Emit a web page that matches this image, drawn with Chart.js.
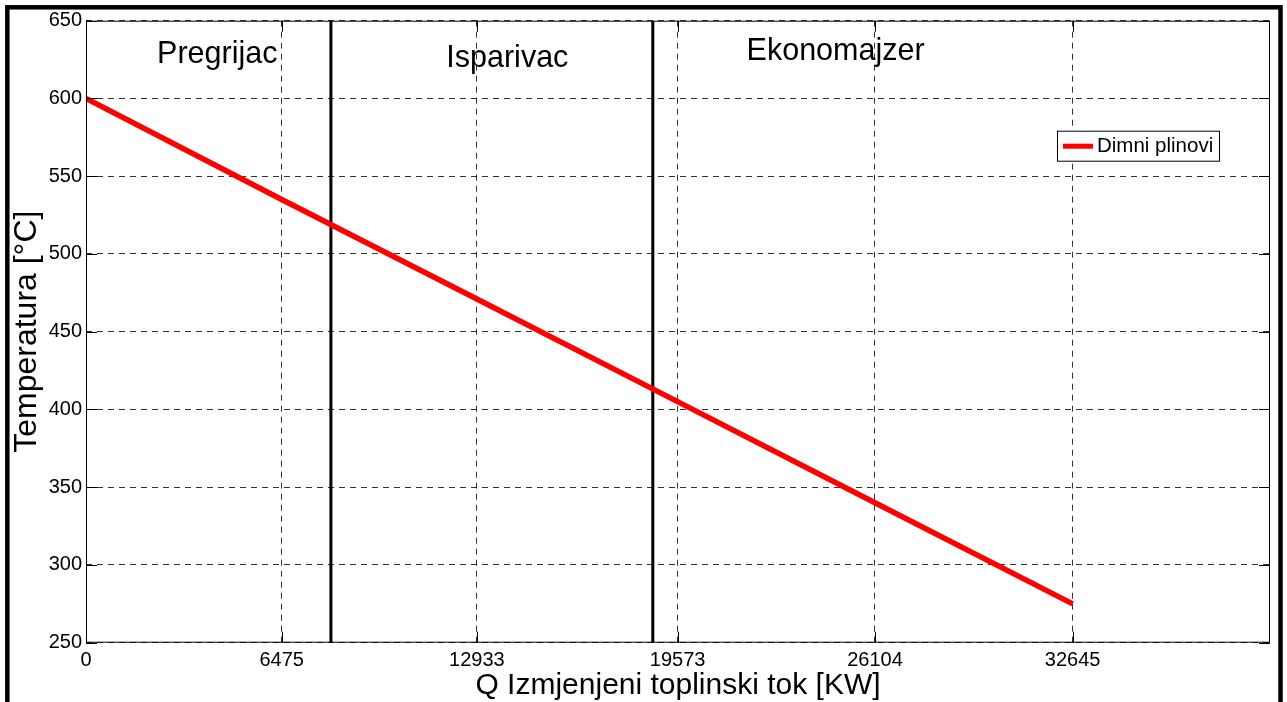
<!DOCTYPE html>
<html>
<head>
<meta charset="utf-8">
<script src="https://cdn.jsdelivr.net/npm/chart.js@4"></script>
<style>
  html, body { margin: 0; padding: 0; background: #fff; }
  #wrap { width: 1287px; height: 702px; position: relative; }
</style>
</head>
<body>
<div id="wrap"><canvas id="myChart" width="1287" height="702"></canvas></div>
<script>
// heat flow Q [KW] vs flue gas temperature
const heatFlow = [0, 6475, 12933, 19573, 26104, 32645];
const flueGasTemp = [600, 535, 471, 405, 340, 275];
const xTickValues = [0, 6475, 12933, 19573, 26104, 32645];
const yTickValues = [250, 300, 350, 400, 450, 500, 550, 600, 650];

// section boundaries (vertical black lines)
const sectionBounds = [8103, 18753];
const sectionNames = ["Pregrijac", "Isparivac", "Ekonomajzer"];
const sectionNameQ = [2351, 11921, 21856];
const sectionNameT = [622.8, 620.2, 624.7];

const FONT = "'Liberation Sans', Arial, sans-serif";

const datasets = [
  {
    label: "Dimni plinovi",
    data: heatFlow.map((q, i) => ({ x: q, y: flueGasTemp[i] })),
    borderColor: "#ff0000",
    borderWidth: 5.5,
    pointRadius: 0,
    tension: 0,
  },
];
sectionBounds.forEach((q) => {
  datasets.push({
    label: "",
    data: [{ x: q, y: yTickValues[0] }, { x: q, y: yTickValues[yTickValues.length - 1] }],
    borderColor: "#000",
    borderWidth: 3,
    pointRadius: 0,
  });
});

const matlabLook = {
  id: "matlabLook",
  afterDraw(chart) {
    const { ctx, chartArea: ca, scales } = chart;
    const xs = scales.x, ys = scales.y;
    ctx.save();

    // axes box
    ctx.strokeStyle = "#000";
    ctx.lineWidth = 1;
    ctx.setLineDash([]);
    ctx.strokeRect(ca.left + 0.5, ca.top + 0.5, ca.right - ca.left - 1, ca.bottom - ca.top - 1);

    // inward tick marks
    const tl = 11;
    ctx.beginPath();
    xTickValues.forEach((v) => {
      const px = Math.round(xs.getPixelForValue(v)) + 0.5;
      ctx.moveTo(px, ca.bottom); ctx.lineTo(px, ca.bottom - tl);
      ctx.moveTo(px, ca.top); ctx.lineTo(px, ca.top + tl);
    });
    yTickValues.forEach((v) => {
      const py = Math.round(ys.getPixelForValue(v)) + 0.5;
      ctx.moveTo(ca.left, py); ctx.lineTo(ca.left + tl, py);
      ctx.moveTo(ca.right, py); ctx.lineTo(ca.right - tl, py);
    });
    ctx.stroke();

    // section names
    ctx.fillStyle = "#000";
    ctx.font = "30.5px " + FONT;
    ctx.textAlign = "left";
    ctx.textBaseline = "alphabetic";
    sectionNames.forEach((name, i) => {
      ctx.fillText(name, xs.getPixelForValue(sectionNameQ[i]), ys.getPixelForValue(sectionNameT[i]));
    });

    // legend box
    const ds = chart.data.datasets[0];
    const bx = ca.right - 213, by = ca.top + 110, bw = 162, bh = 30;
    ctx.fillStyle = "#fff";
    ctx.fillRect(bx, by, bw, bh);
    ctx.strokeStyle = "#000";
    ctx.lineWidth = 1;
    ctx.strokeRect(bx + 0.5, by + 0.5, bw, bh);
    ctx.strokeStyle = ds.borderColor;
    ctx.lineWidth = 5;
    ctx.beginPath();
    ctx.moveTo(bx + 6, by + 15.5);
    ctx.lineTo(bx + 36, by + 15.5);
    ctx.stroke();
    ctx.fillStyle = "#000";
    ctx.font = "20.5px " + FONT;
    ctx.textBaseline = "middle";
    ctx.fillText(ds.label, bx + 40, by + 16);

    // outer figure frame
    ctx.strokeStyle = "#000";
    ctx.lineWidth = 4.5;
    ctx.strokeRect(7.3, 7.3, 1273.2, 760);
    ctx.restore();
  },
};

const ctx = document.getElementById("myChart").getContext("2d");
const myChart = new Chart(ctx, {
  type: "line",
  data: { datasets: datasets },
  plugins: [matlabLook],
  options: {
    responsive: false,
    animation: false,
    layout: { padding: { left: 0, top: 20.7, right: 17, bottom: 0 } },
    plugins: { legend: { display: false }, tooltip: { enabled: false } },
    scales: {
      x: {
        type: "linear",
        min: 0,
        max: 39174,
        afterBuildTicks: (s) => { s.ticks = xTickValues.map((v) => ({ value: v })); },
        afterFit: (s) => { s.height = 59.3; },
        ticks: {
          autoSkip: false,
          maxRotation: 0,
          padding: 6,
          color: "#000",
          font: { family: FONT, size: 20 },
          callback: (v) => String(v),
        },
        grid: { color: "rgba(0,0,0,0.8)", drawTicks: false, lineWidth: 1 },
        border: { display: false, dash: [6, 5] },
        title: {
          display: true,
          text: "Q Izmjenjeni toplinski tok [KW]",
          color: "#000",
          font: { family: FONT, size: 30, lineHeight: 1 },
          padding: { top: 0, bottom: 1 },
        },
      },
      y: {
        min: 250,
        max: 650,
        afterBuildTicks: (s) => { s.ticks = yTickValues.map((v) => ({ value: v })); },
        afterFit: (s) => { s.width = 86; },
        ticks: {
          padding: 4,
          color: "#000",
          font: { family: FONT, size: 20 },
          callback: (v) => String(v),
        },
        grid: { color: "rgba(0,0,0,0.8)", drawTicks: false, lineWidth: 1 },
        border: { display: false, dash: [6, 5] },
        title: {
          display: true,
          text: "Temperatura [°C]",
          color: "#000",
          font: { family: FONT, size: 32, lineHeight: 1 },
          padding: { top: 11, bottom: 0 },
        },
      },
    },
  },
});
</script>
</body>
</html>
